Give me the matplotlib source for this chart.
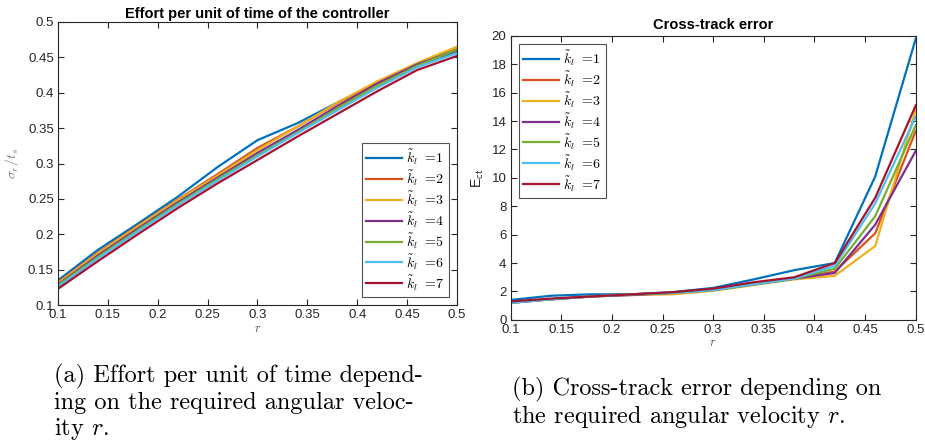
import matplotlib
matplotlib.use("Agg")
import matplotlib.pyplot as plt

plt.rcParams['mathtext.fontset'] = 'cm'
plt.rcParams['font.family'] = ['Liberation Sans', 'DejaVu Sans']

r = [0.1, 0.14, 0.18, 0.22, 0.26, 0.3, 0.34, 0.38, 0.42, 0.46, 0.5]
k_labels = [r'$\tilde{k}_l\ =\!1$', r'$\tilde{k}_l\ =\!2$', r'$\tilde{k}_l\ =\!3$', r'$\tilde{k}_l\ =\!4$',
            r'$\tilde{k}_l\ =\!5$', r'$\tilde{k}_l\ =\!6$', r'$\tilde{k}_l\ =\!7$']
colors = ['#0072BD', '#D95319', '#EDB120', '#7E2F8E', '#77AC30', '#4DBEEE', '#A2142F']

# effort per unit of time, one list per k_l
effort_k1 = [0.135, 0.178, 0.215, 0.253, 0.295, 0.333, 0.357, 0.386, 0.414, 0.440, 0.458]
effort_k2 = [0.132, 0.174, 0.212, 0.249, 0.285, 0.322, 0.352, 0.385, 0.415, 0.441, 0.462]
effort_k3 = [0.131, 0.173, 0.211, 0.248, 0.283, 0.319, 0.352, 0.386, 0.416, 0.442, 0.465]
effort_k4 = [0.129, 0.170, 0.208, 0.245, 0.280, 0.315, 0.347, 0.381, 0.413, 0.440, 0.460]
effort_k5 = [0.128, 0.168, 0.206, 0.243, 0.278, 0.312, 0.344, 0.378, 0.410, 0.438, 0.461]
effort_k6 = [0.126, 0.166, 0.204, 0.241, 0.276, 0.310, 0.343, 0.375, 0.407, 0.436, 0.456]
effort_k7 = [0.123, 0.162, 0.200, 0.237, 0.272, 0.305, 0.338, 0.370, 0.402, 0.432, 0.452]

# cross-track error, one list per k_l
ect_k1 = [1.4, 1.7, 1.8, 1.8, 1.95, 2.25, 2.85, 3.5, 4.0, 10.1, 19.8]
ect_k2 = [1.25, 1.45, 1.65, 1.8, 1.9, 2.1, 2.5, 2.9, 3.4, 6.1, 13.3]
ect_k3 = [1.2, 1.45, 1.65, 1.75, 1.8, 2.05, 2.45, 2.85, 3.1, 5.2, 14.8]
ect_k4 = [1.2, 1.45, 1.65, 1.75, 1.9, 2.1, 2.5, 2.9, 3.3, 6.7, 11.9]
ect_k5 = [1.2, 1.45, 1.65, 1.8, 1.9, 2.1, 2.5, 2.9, 3.6, 7.3, 13.7]
ect_k6 = [1.2, 1.45, 1.65, 1.8, 1.9, 2.1, 2.5, 2.9, 3.8, 8.2, 14.3]
ect_k7 = [1.3, 1.5, 1.65, 1.8, 1.95, 2.2, 2.65, 3.0, 4.0, 8.6, 15.1]

effort = [effort_k1, effort_k2, effort_k3, effort_k4, effort_k5, effort_k6, effort_k7]
ect = [ect_k1, ect_k2, ect_k3, ect_k4, ect_k5, ect_k6, ect_k7]

caption_a = ['(a) Effort per unit of time depend-', 'ing on the required angular veloc-', 'ity $r$.']
caption_b = ['(b) Cross-track error depending on', 'the required angular velocity $r$.']

fig = plt.figure(figsize=(9.25, 4.48), dpi=100)
ax1 = fig.add_axes([0.0627, 0.319, 0.4313, 0.632])
ax2 = fig.add_axes([0.552, 0.286, 0.438, 0.634])

axcol = '#262626'
for ax in (ax1, ax2):
    ax.tick_params(direction='in', top=True, right=True, labelsize=9.5, colors=axcol, length=4, pad=3)
    for s in ax.spines.values():
        s.set_color(axcol)
        s.set_linewidth(0.8)
    ax.set_xlim(0.1, 0.5)
    ax.set_xticks([0.1, 0.15, 0.2, 0.25, 0.3, 0.35, 0.4, 0.45, 0.5])
    ax.set_xticklabels(['0.1', '0.15', '0.2', '0.25', '0.3', '0.35', '0.4', '0.45', '0.5'])
    ax.set_xlabel('$r$', fontsize=9, color='#555555', labelpad=1)

leg_kw = dict(fontsize=10, fancybox=False, edgecolor=axcol, handlelength=2.6,
              labelspacing=0.08, borderpad=0.3, handletextpad=0.3, borderaxespad=0.6)

for y, c, lab in zip(effort, colors, k_labels):
    ax1.plot(r, y, color=c, lw=1.6, label=lab)
ax1.set_ylim(0.1, 0.5)
ax1.set_yticks([0.1, 0.15, 0.2, 0.25, 0.3, 0.35, 0.4, 0.45, 0.5])
ax1.set_yticklabels(['0.1', '0.15', '0.2', '0.25', '0.3', '0.35', '0.4', '0.45', '0.5'])
ax1.set_ylabel(r'$\sigma_r/t_s$', fontsize=10, color='#777777', labelpad=5)
ax1.set_title('Effort per unit of time of the controller', fontsize=10.5, fontweight='bold', pad=3)
leg1 = ax1.legend(loc='lower right', **leg_kw)
leg1.get_frame().set_linewidth(0.8)

for y, c, lab in zip(ect, colors, k_labels):
    ax2.plot(r, y, color=c, lw=1.6, label=lab)
ax2.set_ylim(0, 20)
ax2.set_yticks(range(0, 21, 2))
ax2.set_ylabel(r'E$_{\mathsf{ct}}$', fontsize=10, color=axcol, labelpad=4)
ax2.set_title('Cross-track error', fontsize=10.5, fontweight='bold', pad=5)
leg2 = ax2.legend(loc='upper left', **leg_kw)
leg2.get_frame().set_linewidth(0.8)

cap = dict(fontsize=17.5, family='cmr10', va='baseline', ha='left')
for i, line in enumerate(caption_a):
    fig.text(54 / 925, 1 - (382 + 26.5 * i) / 448, line, **cap)
for i, line in enumerate(caption_b):
    fig.text(512 / 925, 1 - (395 + 27.5 * i) / 448, line, **cap)

fig.savefig('out.png', dpi=100)
